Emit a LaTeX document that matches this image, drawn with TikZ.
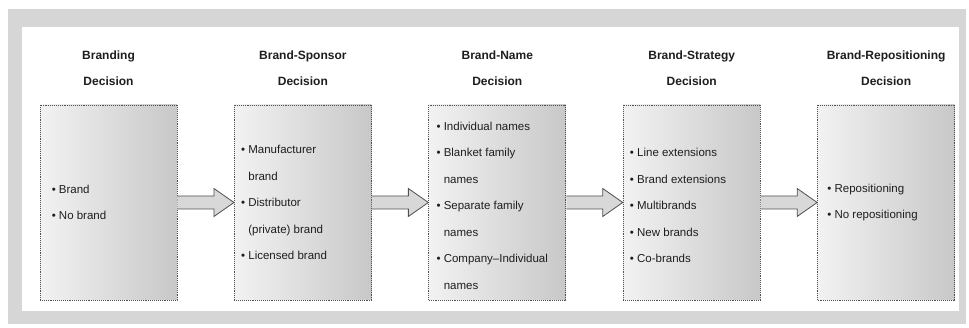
\documentclass[tikz,border=0pt]{standalone}
\usepackage{fontspec}
\setmainfont{Liberation Sans}
\usetikzlibrary{positioning,calc}
\definecolor{Ink}{HTML}{1E1E1E}
\definecolor{Edge}{HTML}{505050}
\definecolor{BoxLight}{HTML}{F2F2F2}
\definecolor{BoxDark}{HTML}{C8C8C8}
\definecolor{Band}{HTML}{D6D6D6}
\definecolor{ArrowFill}{HTML}{D8D8D8}

\newcommand{\itm}{\textbullet\ }
\newcommand{\cnt}{\phantom{\textbullet\ }}
\newcommand{\blkarrow}[2]{%
  \draw[barr] ($(#1.east)+(0,6.5)$) -- ($(#2.west)+(-20,6.5)$) -- ($(#2.west)+(-20,14)$)
    -- (#2.west) -- ($(#2.west)+(-20,-14)$) -- ($(#2.west)+(-20,-6.5)$) -- ($(#1.east)+(0,-6.5)$);}

\begin{document}
\begin{tikzpicture}[x=1pt,y=1pt,
  dbox/.style={draw=Edge,densely dotted,line width=0.9pt,left color=BoxLight,right color=BoxDark,
    minimum width=137pt,minimum height=195pt,inner sep=0pt},
  ttl/.style={font=\fontsize{12}{26}\selectfont\bfseries,text=Ink,align=center,inner sep=0pt},
  itms/.style={font=\fontsize{11.5}{26.5}\selectfont,text=Ink,align=left,inner sep=0pt,anchor=west},
  barr/.style={draw=Edge,line width=0.8pt,fill=ArrowFill,line join=miter}
]
  \useasboundingbox (0,0) rectangle (969,328);
  % frame
  \fill[Band] (8,4) rectangle (966,319);
  \fill[white] (22,17) rectangle (959,301);

  % Branding
  \node[dbox] (b1) at (108.5,125.5) {};
  \node[ttl,above=19pt of b1] (t1) {Branding\\Decision};
  \node[itms] (i1) at ($(b1.west)+(12,0)$) {\itm Brand\\\itm No brand};

  % Brand-Sponsor
  \node[dbox,right=56.5pt of b1] (b2) {};
  \node[ttl,above=19pt of b2] (t2) {Brand-Sponsor\\Decision};
  \node[itms] (i2) at ($(b2.west)+(7,0)$) {\itm Manufacturer\\\cnt brand\\\itm Distributor\\\cnt (private) brand\\\itm Licensed brand};

  % Brand-Name
  \node[dbox,right=56.5pt of b2] (b3) {};
  \node[ttl,above=19pt of b3] (t3) {Brand-Name\\Decision};
  \node[itms] (i3) at ($(b3.west)+(8,-3)$) {\itm Individual names\\\itm Blanket family\\\cnt names\\\itm Separate family\\\cnt names\\\itm Company--Individual\\\cnt names};

  % Brand-Strategy
  \node[dbox,right=56.5pt of b3] (b4) {};
  \node[ttl,above=19pt of b4] (t4) {Brand-Strategy\\Decision};
  \node[itms] (i4) at ($(b4.west)+(7,-3)$) {\itm Line extensions\\\itm Brand extensions\\\itm Multibrands\\\itm New brands\\\itm Co-brands};

  % Brand-Repositioning
  \node[dbox,right=56.5pt of b4] (b5) {};
  \node[ttl,above=19pt of b5] (t5) {Brand-Repositioning\\Decision};
  \node[itms] (i5) at ($(b5.west)+(10,0)$) {\itm Repositioning\\\itm No repositioning};

  \blkarrow{b1}{b2} \blkarrow{b2}{b3} \blkarrow{b3}{b4} \blkarrow{b4}{b5}
\end{tikzpicture}
\end{document}
